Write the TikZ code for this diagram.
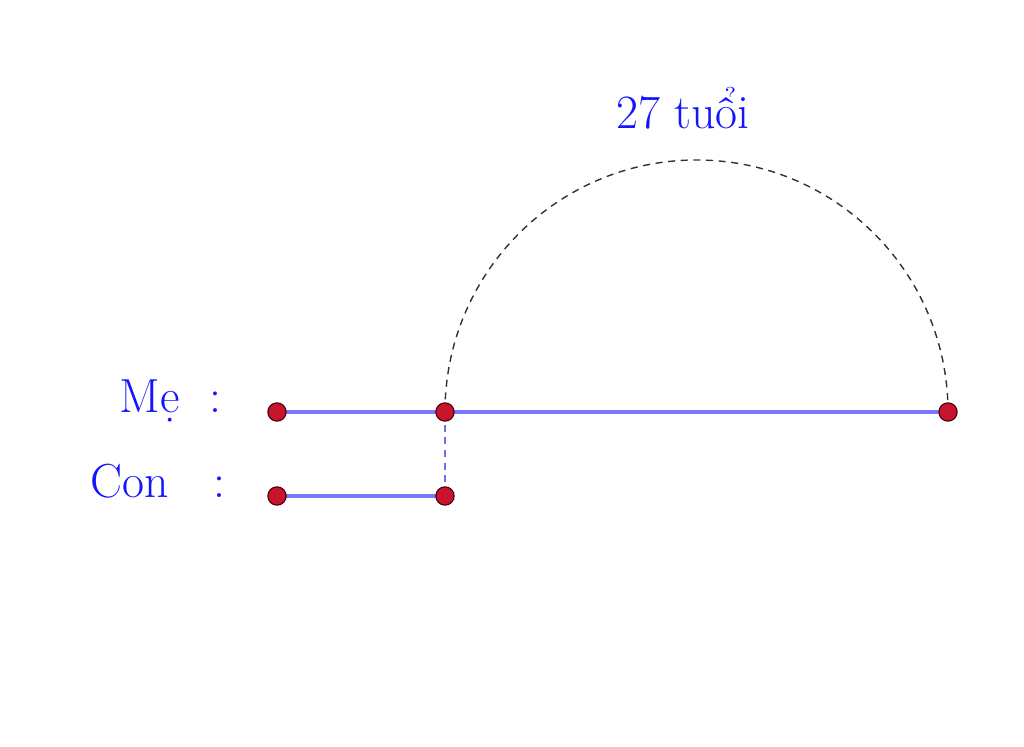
\documentclass[tikz,border=0pt]{standalone}
\usepackage{fontspec}
\setmainfont{Latin Modern Roman}
\begin{document}
\begin{tikzpicture}[x=0.025cm,y=-0.025cm,
  seg/.style={draw={rgb,255:red,120;green,120;blue,255},line width=2.2pt},
  vdash/.style={draw={rgb,255:red,110;green,110;blue,240},line width=1.4pt,dash pattern=on 5pt off 4pt},
  arcdash/.style={draw={rgb,255:red,50;green,50;blue,50},line width=1pt,dash pattern=on 5pt off 4pt},
  pt/.style={circle,fill={rgb,255:red,200;green,20;blue,45},draw={rgb,255:red,70;green,0;blue,10},line width=0.8pt,inner sep=0pt,minimum size=13pt},
  lbl/.style={text={rgb,255:red,20;green,20;blue,255},font=\fontsize{34}{40}\selectfont,inner sep=0pt,anchor=base}]
\useasboundingbox (0,0) rectangle (1024,747);
\coordinate (A) at (277,412);
\coordinate (B) at (445,412);
\coordinate (C) at (948,412);
\coordinate (D) at (277,496);
\coordinate (E) at (445,496);
\draw[arcdash] (B) arc[start angle=180,end angle=0,x radius=251.5,y radius=-252];
\draw[seg] (A) -- (C);
\draw[seg] (D) -- (E);
\draw[vdash] (B) -- (E);
\foreach \p in {A,B,C,D,E} \node[pt] at (\p) {};
\node[lbl] (me) at (150,412) {Mẹ};
\node[lbl] (mec) at (215,412) {:};
\node[lbl] (con) at (130,497) {Con};
\node[lbl] (conc) at (219,497) {:};
\node[lbl] (age) at (683,129) {27 tuổi};
\end{tikzpicture}
\end{document}
